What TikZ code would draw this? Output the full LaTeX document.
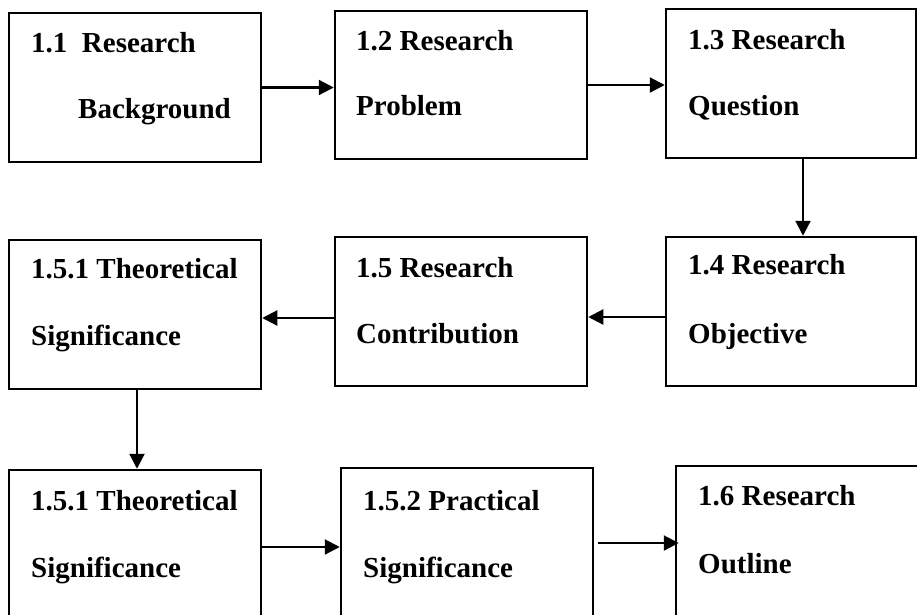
\documentclass[tikz,border=0pt]{standalone}
\usepackage{fontspec}
\setmainfont{Liberation Serif}
\usetikzlibrary{arrows.meta}
\begin{document}
\begin{tikzpicture}[x=1pt,y=-1pt,
 box/.style={draw,line width=2.5pt,fill=white,inner sep=0pt},
 lbl/.style={anchor=base west,inner sep=0pt,font=\fontsize{29}{29}\selectfont\bfseries},
 conn/.style={line width=2.2pt,-{Triangle[length=15pt,width=15pt]}}]
\useasboundingbox (0,0) rectangle (917,614);
\clip (0,0) rectangle (917,614);
\fill[white] (0,0) rectangle (917,614);
% boxes
\node[box,minimum width=252pt,minimum height=149pt] (b11) at (135,87.5) {};
\node[box,minimum width=252pt,minimum height=148pt] (b12) at (461,85) {};
\node[box,minimum width=250pt,minimum height=149pt] (b13) at (791,83.5) {};
\node[box,minimum width=250pt,minimum height=149pt] (b14) at (791,311.5) {};
\node[box,minimum width=252pt,minimum height=149pt] (b15) at (461,311.5) {};
\node[box,minimum width=252pt,minimum height=149pt] (b151) at (135,314.5) {};
\node[box,minimum width=252pt,minimum height=150pt] (c151) at (135,545) {};
\node[box,minimum width=252pt,minimum height=152pt] (c152) at (467,544) {};
\node[box,minimum width=254pt,minimum height=154pt] (c16) at (803,543) {};
% labels
\node[lbl] (t11a) at (31,52) {1.1\ \ Research};
\node[lbl] (t11b) at (78,118) {Background};
\node[lbl] (t12a) at (356,50) {1.2 Research};
\node[lbl] (t12b) at (356,115) {Problem};
\node[lbl] (t13a) at (688,49) {1.3 Research};
\node[lbl] (t13b) at (688,115) {Question};
\node[lbl] (t14a) at (688,274) {1.4 Research};
\node[lbl] (t14b) at (688,343) {Objective};
\node[lbl] (t15a) at (356,277) {1.5 Research};
\node[lbl] (t15b) at (356,343) {Contribution};
\node[lbl] (t151a) at (31,278) {1.5.1 Theoretical};
\node[lbl] (t151b) at (31,345) {Significance};
\node[lbl] (u151a) at (31,510) {1.5.1 Theoretical};
\node[lbl] (u151b) at (31,577) {Significance};
\node[lbl] (u152a) at (363,510) {1.5.2 Practical};
\node[lbl] (u152b) at (363,577) {Significance};
\node[lbl] (u16a) at (698,505) {1.6 Research};
\node[lbl] (u16b) at (698,573) {Outline};
% connectors
\draw[conn] (b11.east) -- (b11.east -| b12.west);
\draw[conn] (b12.east) -- (b12.east -| b13.west);
\draw[conn] ([xshift=12pt]b13.south) -- ([xshift=12pt]b13.south |- b14.north);
\draw[conn] ([yshift=-5.5pt]b14.west) -- ([yshift=-5.5pt]b14.west -| b15.east);
\draw[conn] ([yshift=-6.5pt]b15.west) -- ([yshift=-6.5pt]b15.west -| b151.east);
\draw[conn] ([xshift=2pt]b151.south) -- ([xshift=2pt]b151.south |- c151.north);
\draw[conn] ([yshift=-2pt]c151.east) -- ([yshift=-2pt]c151.east -| c152.west);
\draw[conn] ([xshift=4pt,yshift=1pt]c152.east) -- ([xshift=4pt,yshift=1pt]c152.east -| c16.west);
\end{tikzpicture}
\end{document}
